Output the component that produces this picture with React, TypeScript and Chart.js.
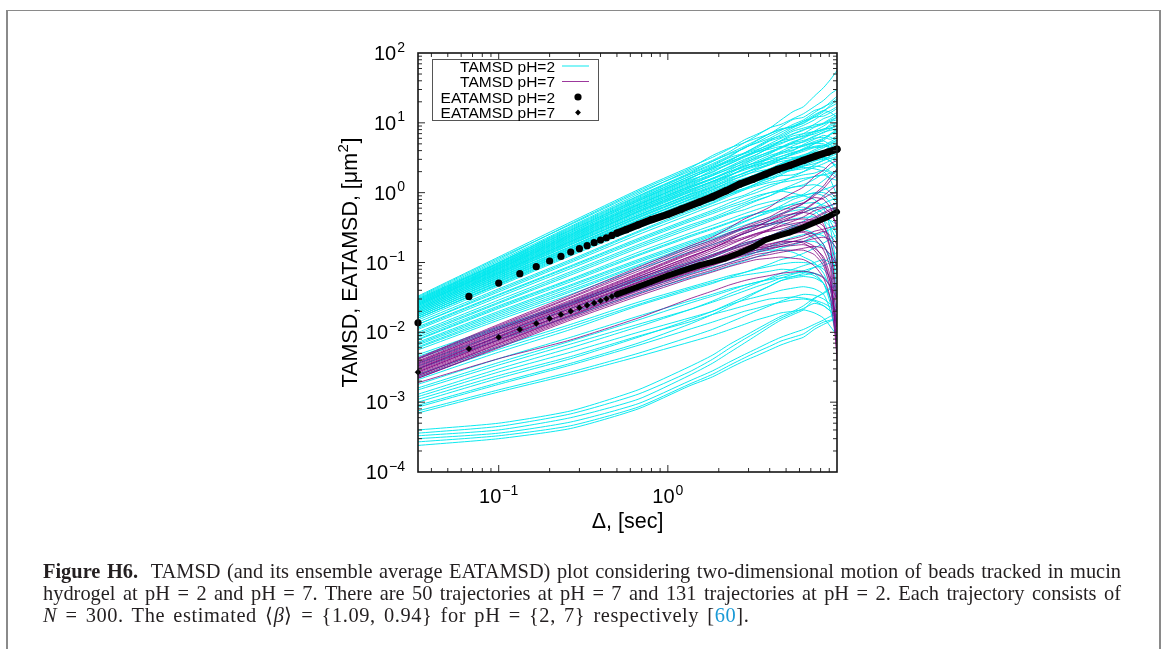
import { useEffect, useRef } from "react";
import { Chart, registerables } from "chart.js";

Chart.register(...registerables);

// Lag n (frames) corresponds to Δ = n / FRAME_RATE seconds.
const FRAME_RATE = 30;

// Lags at which each single-trajectory TAMSD curve is sampled.
const TAMSD_LAGS = [1, 3, 8, 20, 40, 55, 70, 85, 100, 120, 140, 165, 190, 220, 250, 275, 300];

// TAMSD curves, pH = 2 (μm²), one row per trajectory.
const TAMSD_PH2 = [
  [0.033, 0.12, 0.38, 1.1, 2.3, 3.2, 4.3, 5.7, 6.8, 8.4, 11, 14.5, 17, 24, 32, 42, 56],
  [0.031, 0.11, 0.36, 1.05, 2.2, 3.4, 4.4, 5.2, 6.5, 8.5, 9.5, 11.5, 13.5, 17, 21, 26, 30],
  [0.03, 0.105, 0.33, 0.95, 2.1, 2.9, 3.9, 5.2, 6.0, 7.0, 8.8, 11.2, 12, 15, 16.5, 20, 24],
  [0.029, 0.1, 0.32, 0.9, 1.9, 2.8, 3.6, 4.3, 5.5, 7.0, 8.2, 8.8, 10.5, 12, 14.5, 18, 21],
  [0.028, 0.098, 0.3, 0.85, 1.8, 2.5, 3.3, 4.4, 5.1, 6.0, 7.3, 8.8, 9.8, 12, 12.5, 14, 16],
  [0.027, 0.094, 0.29, 0.8, 1.7, 2.4, 3.2, 3.7, 4.6, 5.8, 6.5, 8.0, 9.2, 11, 13.5, 15, 17],
  [0.026, 0.09, 0.27, 0.75, 1.55, 2.3, 2.9, 3.7, 4.3, 5.5, 6.2, 7.6, 8.4, 9.3, 9.8, 11, 12],
  [0.026, 0.088, 0.26, 0.72, 1.5, 1.95, 2.7, 3.4, 3.9, 4.5, 5.6, 6.9, 7.8, 9.5, 11.5, 12.5, 14],
  [0.025, 0.085, 0.25, 0.68, 1.4, 2.1, 2.6, 3.2, 3.8, 4.6, 5.2, 5.8, 6.6, 7.5, 8.1, 9, 9.8],
  [0.024, 0.082, 0.24, 0.66, 1.35, 1.8, 2.4, 3.0, 3.5, 4.4, 5.0, 6.0, 7.0, 8.6, 9.6, 10.5, 11],
  [0.024, 0.08, 0.23, 0.62, 1.25, 1.75, 2.2, 2.6, 3.2, 3.9, 4.4, 5.2, 5.6, 6.3, 7.4, 7.8, 8.3],
  [0.023, 0.077, 0.22, 0.6, 1.2, 1.6, 2.1, 2.7, 3.1, 3.6, 4.5, 5.4, 6.0, 7.2, 8.2, 8.3, 7.5],
  [0.022, 0.074, 0.21, 0.57, 1.15, 1.6, 2.0, 2.3, 2.8, 3.4, 3.8, 4.1, 4.7, 5.4, 6.0, 6.9, 7.5],
  [0.022, 0.072, 0.205, 0.55, 1.1, 1.45, 1.9, 2.4, 2.7, 3.2, 3.9, 4.7, 5.4, 6.5, 7.2, 8.2, 9.0],
  [0.021, 0.07, 0.2, 0.53, 1.05, 1.45, 1.8, 2.2, 2.5, 2.8, 3.3, 3.8, 4.1, 4.5, 4.7, 5.2, 5.6],
  [0.021, 0.068, 0.19, 0.5, 1.0, 1.3, 1.75, 2.2, 2.5, 3.1, 3.6, 4.0, 4.9, 5.8, 6.6, 6.2, 5.5],
  [0.02, 0.066, 0.185, 0.48, 0.95, 1.35, 1.65, 1.9, 2.3, 2.8, 3.1, 3.5, 3.9, 4.4, 4.5, 4.9, 5.3],
  [0.02, 0.064, 0.18, 0.47, 0.92, 1.2, 1.55, 1.95, 2.2, 2.5, 3.0, 3.6, 4.1, 5.0, 5.9, 7.0, 8.0],
  [0.019, 0.062, 0.17, 0.45, 0.88, 1.2, 1.5, 1.75, 2.1, 2.5, 2.8, 3.0, 3.3, 3.6, 3.7, 3.9, 4.2],
  [0.019, 0.06, 0.165, 0.43, 0.84, 1.1, 1.45, 1.8, 2.0, 2.2, 2.6, 3.0, 3.3, 3.9, 4.4, 5.0, 5.6],
  [0.018, 0.058, 0.16, 0.41, 0.8, 1.1, 1.35, 1.55, 1.85, 2.2, 2.4, 2.5, 2.8, 3.0, 3.2, 3.1, 2.7],
  [0.018, 0.056, 0.155, 0.4, 0.78, 1.0, 1.3, 1.6, 1.8, 2.0, 2.5, 3.0, 3.4, 4.1, 4.7, 5.4, 6.0],
  [0.017, 0.054, 0.15, 0.38, 0.74, 1.0, 1.25, 1.45, 1.7, 2.0, 2.2, 2.3, 2.6, 2.9, 3.0, 3.3, 3.6],
  [0.017, 0.052, 0.145, 0.37, 0.7, 0.95, 1.15, 1.35, 1.55, 1.8, 2.0, 2.1, 2.4, 2.8, 3.1, 2.8, 2.2],
  [0.016, 0.05, 0.14, 0.35, 0.66, 0.85, 1.1, 1.35, 1.5, 1.6, 1.9, 2.1, 2.2, 2.4, 2.3, 2.0, 1.8],
  [0.016, 0.048, 0.13, 0.33, 0.62, 0.82, 1.0, 1.15, 1.35, 1.6, 1.75, 1.8, 2.0, 2.3, 2.6, 2.9, 3.2],
  [0.032, 0.115, 0.35, 1.0, 2.0, 2.8, 3.7, 4.6, 5.6, 7.0, 8.0, 9.0, 10.5, 13, 15, 14, 12],
  [0.03, 0.1, 0.31, 0.88, 1.85, 2.6, 3.4, 4.4, 5.2, 6.5, 7.8, 9.5, 11, 14, 17, 19, 22],
  [0.029, 0.096, 0.29, 0.82, 1.7, 2.3, 3.0, 3.6, 4.1, 4.8, 5.5, 6.0, 6.4, 6.9, 7.8, 8.5, 9.0],
  [0.028, 0.092, 0.28, 0.78, 1.6, 2.2, 2.9, 3.7, 4.5, 5.6, 6.8, 8.5, 10, 12.5, 15, 17, 19],
  [0.027, 0.09, 0.27, 0.76, 1.6, 2.2, 2.8, 3.3, 3.8, 4.2, 4.6, 4.4, 4.6, 5.2, 5.5, 4.8, 4.0],
  [0.026, 0.086, 0.255, 0.7, 1.45, 2.0, 2.6, 3.3, 4.0, 5.0, 6.0, 7.0, 8.0, 8.8, 10, 11.5, 13],
  [0.025, 0.083, 0.245, 0.67, 1.38, 1.85, 2.35, 2.8, 3.3, 3.8, 4.5, 5.0, 5.3, 6.0, 6.2, 5.8, 6.5],
  [0.025, 0.081, 0.235, 0.64, 1.3, 1.75, 2.25, 2.9, 3.5, 4.4, 5.5, 6.5, 7.0, 7.5, 8.0, 9.5, 10],
  [0.024, 0.078, 0.225, 0.61, 1.22, 1.6, 2.0, 2.4, 2.7, 3.0, 3.3, 3.7, 4.2, 4.6, 4.8, 4.2, 3.4],
  [0.023, 0.075, 0.215, 0.58, 1.16, 1.55, 2.0, 2.5, 3.0, 3.7, 4.3, 5.2, 6.2, 7.6, 9.0, 10.5, 12],
  [0.022, 0.072, 0.2, 0.54, 1.08, 1.45, 1.8, 2.1, 2.4, 2.7, 3.0, 3.2, 3.3, 3.5, 3.9, 4.3, 4.5],
  [0.021, 0.069, 0.195, 0.52, 1.02, 1.4, 1.75, 2.2, 2.6, 3.2, 3.7, 4.4, 4.8, 5.1, 5.0, 4.4, 3.9],
  [0.02, 0.065, 0.18, 0.47, 0.93, 1.25, 1.6, 1.9, 2.2, 2.6, 3.0, 3.6, 4.3, 5.0, 5.6, 6.8, 7.5],
  [0.019, 0.061, 0.17, 0.44, 0.86, 1.15, 1.4, 1.6, 1.8, 2.0, 2.2, 2.3, 2.4, 2.6, 2.9, 3.1, 3.3],
  [0.018, 0.057, 0.158, 0.4, 0.79, 1.05, 1.3, 1.55, 1.8, 2.2, 2.6, 3.1, 3.5, 3.8, 4.0, 4.5, 5.0],
  [0.017, 0.053, 0.148, 0.37, 0.72, 0.95, 1.2, 1.4, 1.6, 1.85, 2.0, 2.2, 2.3, 2.2, 2.0, 1.5, 0.9],
  [0.016, 0.049, 0.135, 0.34, 0.64, 0.86, 1.05, 1.25, 1.45, 1.7, 2.0, 2.4, 2.8, 3.2, 3.7, 4.2, 4.4],
  [0.015, 0.046, 0.125, 0.31, 0.58, 0.76, 0.95, 1.1, 1.25, 1.4, 1.5, 1.65, 1.8, 1.9, 2.1, 1.9, 1.6],
  [0.014, 0.042, 0.11, 0.28, 0.55, 0.72, 0.95, 1.15, 1.3, 1.5, 1.8, 2.2, 2.5, 3.0, 3.6, 4.2, 4.8],
  [0.013, 0.038, 0.1, 0.25, 0.48, 0.65, 0.8, 0.92, 1.1, 1.3, 1.4, 1.5, 1.6, 1.7, 1.8, 1.9, 2.1],
  [0.012, 0.035, 0.09, 0.22, 0.42, 0.56, 0.72, 0.88, 1.0, 1.2, 1.4, 1.7, 2.0, 2.5, 2.9, 3.4, 3.9],
  [0.011, 0.032, 0.082, 0.2, 0.38, 0.5, 0.62, 0.72, 0.85, 1.0, 1.1, 1.2, 1.25, 1.3, 1.2, 1.0, 0.8],
  [0.01, 0.029, 0.074, 0.18, 0.34, 0.44, 0.56, 0.68, 0.78, 0.9, 1.05, 1.2, 1.3, 1.55, 1.9, 2.3, 2.6],
  [0.009, 0.026, 0.066, 0.16, 0.3, 0.4, 0.5, 0.57, 0.66, 0.74, 0.8, 0.88, 0.92, 0.98, 0.9, 0.7, 0.45],
  [0.0085, 0.024, 0.058, 0.14, 0.26, 0.34, 0.42, 0.5, 0.57, 0.66, 0.75, 0.86, 0.95, 1.2, 1.5, 1.8, 2.0],
  [0.0078, 0.022, 0.053, 0.125, 0.23, 0.3, 0.37, 0.44, 0.5, 0.56, 0.62, 0.68, 0.7, 0.72, 0.66, 0.6, 0.55],
  [0.0072, 0.02, 0.048, 0.11, 0.2, 0.26, 0.33, 0.39, 0.45, 0.52, 0.6, 0.7, 0.78, 0.95, 1.1, 1.2, 1.3],
  [0.0066, 0.018, 0.043, 0.1, 0.18, 0.24, 0.29, 0.34, 0.39, 0.44, 0.5, 0.55, 0.58, 0.6, 0.5, 0.38, 0.25],
  [0.006, 0.016, 0.038, 0.088, 0.16, 0.21, 0.26, 0.3, 0.34, 0.39, 0.44, 0.49, 0.52, 0.6, 0.7, 0.78, 0.85],
  [0.0056, 0.015, 0.035, 0.08, 0.14, 0.18, 0.22, 0.26, 0.3, 0.34, 0.38, 0.42, 0.44, 0.45, 0.4, 0.32, 0.2],
  [0.013, 0.04, 0.105, 0.27, 0.52, 0.7, 0.9, 1.1, 1.35, 1.7, 2.1, 2.6, 3.0, 3.3, 3.2, 2.8, 2.4],
  [0.0115, 0.034, 0.087, 0.21, 0.4, 0.53, 0.66, 0.78, 0.9, 1.0, 1.05, 0.98, 0.9, 0.8, 0.6, 0.3, 0.08],
  [0.0095, 0.027, 0.07, 0.17, 0.32, 0.42, 0.52, 0.64, 0.76, 0.9, 1.1, 1.3, 1.5, 1.7, 1.8, 1.6, 1.5],
  [0.008, 0.023, 0.056, 0.13, 0.24, 0.31, 0.38, 0.45, 0.5, 0.55, 0.58, 0.6, 0.62, 0.55, 0.4, 0.2, 0.04],
  [0.0069, 0.019, 0.046, 0.105, 0.19, 0.25, 0.31, 0.38, 0.45, 0.55, 0.65, 0.8, 0.9, 1.0, 1.0, 0.9, 0.7],
  [0.0062, 0.017, 0.04, 0.092, 0.17, 0.22, 0.27, 0.31, 0.34, 0.36, 0.37, 0.34, 0.3, 0.26, 0.18, 0.1, 0.03],
  [0.0048, 0.012, 0.027, 0.06, 0.1, 0.13, 0.16, 0.19, 0.21, 0.24, 0.27, 0.31, 0.34, 0.38, 0.42, 0.4, 0.35],
  [0.0042, 0.011, 0.025, 0.055, 0.095, 0.12, 0.15, 0.18, 0.2, 0.24, 0.28, 0.33, 0.39, 0.5, 0.58, 0.65, 0.7],
  [0.0036, 0.0095, 0.022, 0.047, 0.08, 0.1, 0.12, 0.14, 0.15, 0.16, 0.18, 0.2, 0.2, 0.2, 0.17, 0.12, 0.07],
  [0.003, 0.0078, 0.017, 0.036, 0.06, 0.075, 0.09, 0.105, 0.12, 0.14, 0.16, 0.18, 0.2, 0.24, 0.27, 0.3, 0.33],
  [0.0025, 0.0062, 0.013, 0.027, 0.044, 0.055, 0.065, 0.072, 0.08, 0.088, 0.095, 0.1, 0.1, 0.095, 0.08, 0.06, 0.03],
  [0.0021, 0.0052, 0.011, 0.024, 0.04, 0.05, 0.062, 0.072, 0.082, 0.095, 0.11, 0.12, 0.135, 0.16, 0.19, 0.22, 0.25],
  [0.0018, 0.0042, 0.0085, 0.017, 0.028, 0.035, 0.042, 0.047, 0.052, 0.057, 0.06, 0.063, 0.066, 0.07, 0.062, 0.045, 0.02],
  [0.0015, 0.0034, 0.0068, 0.013, 0.021, 0.027, 0.033, 0.039, 0.045, 0.052, 0.06, 0.068, 0.076, 0.085, 0.09, 0.1, 0.11],
  [0.0012, 0.0027, 0.0052, 0.01, 0.016, 0.02, 0.025, 0.029, 0.032, 0.036, 0.04, 0.043, 0.045, 0.042, 0.035, 0.02, 0.008],
  [0.001, 0.0022, 0.0042, 0.0085, 0.015, 0.02, 0.026, 0.032, 0.038, 0.046, 0.055, 0.063, 0.07, 0.085, 0.1, 0.12, 0.14],
  [0.00085, 0.0018, 0.0034, 0.0065, 0.011, 0.014, 0.017, 0.02, 0.022, 0.025, 0.027, 0.029, 0.03, 0.028, 0.024, 0.02, 0.015],
  [0.0007, 0.0014, 0.0025, 0.0045, 0.0072, 0.009, 0.011, 0.013, 0.015, 0.017, 0.019, 0.02, 0.021, 0.019, 0.016, 0.012, 0.009],
  [0.0045, 0.0115, 0.026, 0.056, 0.09, 0.11, 0.125, 0.13, 0.14, 0.15, 0.15, 0.14, 0.12, 0.1, 0.07, 0.04, 0.012],
  [0.0033, 0.0085, 0.019, 0.04, 0.068, 0.085, 0.1, 0.12, 0.14, 0.17, 0.2, 0.23, 0.25, 0.26, 0.24, 0.2, 0.16],
  [0.0023, 0.0057, 0.012, 0.025, 0.042, 0.052, 0.06, 0.066, 0.07, 0.075, 0.08, 0.078, 0.075, 0.07, 0.05, 0.025, 0.007],
  [0.0016, 0.0037, 0.0075, 0.015, 0.026, 0.033, 0.04, 0.047, 0.052, 0.058, 0.065, 0.07, 0.072, 0.065, 0.05, 0.03, 0.015],
  [0.0013, 0.003, 0.006, 0.012, 0.021, 0.028, 0.036, 0.043, 0.05, 0.06, 0.07, 0.08, 0.09, 0.1, 0.11, 0.1, 0.09],
  [0.0011, 0.0024, 0.0045, 0.0088, 0.014, 0.018, 0.021, 0.024, 0.027, 0.03, 0.031, 0.032, 0.031, 0.029, 0.026, 0.023, 0.02],
  [0.0009, 0.0019, 0.0036, 0.007, 0.013, 0.018, 0.024, 0.03, 0.037, 0.046, 0.055, 0.06, 0.063, 0.06, 0.05, 0.03, 0.012],
  [0.00075, 0.0015, 0.0027, 0.005, 0.0085, 0.011, 0.014, 0.017, 0.02, 0.024, 0.028, 0.032, 0.035, 0.034, 0.03, 0.025, 0.02],
  [0.0004, 0.0005, 0.00075, 0.0015, 0.0032, 0.0047, 0.0068, 0.0088, 0.011, 0.014, 0.017, 0.02, 0.024, 0.031, 0.036, 0.042, 0.048],
  [0.00036, 0.00045, 0.00068, 0.0013, 0.0027, 0.0041, 0.006, 0.008, 0.01, 0.013, 0.016, 0.019, 0.022, 0.026, 0.024, 0.02, 0.017],
  [0.00033, 0.0004, 0.0006, 0.0011, 0.0024, 0.0036, 0.0052, 0.007, 0.009, 0.012, 0.015, 0.018, 0.021, 0.03, 0.037, 0.044, 0.05],
  [0.0003, 0.00036, 0.00052, 0.00095, 0.002, 0.0028, 0.0038, 0.0048, 0.0058, 0.0072, 0.0085, 0.0098, 0.011, 0.013, 0.015, 0.017, 0.018],
  [0.00027, 0.00033, 0.00046, 0.00085, 0.0018, 0.0025, 0.0034, 0.0043, 0.0052, 0.0063, 0.0075, 0.0085, 0.0095, 0.012, 0.014, 0.015, 0.016],
  [0.00024, 0.0003, 0.00042, 0.0008, 0.0017, 0.0023, 0.0031, 0.0039, 0.0046, 0.0056, 0.0066, 0.0076, 0.0085, 0.011, 0.013, 0.0145, 0.0158],
];

// TAMSD curves, pH = 7 (μm²), one row per trajectory.
const TAMSD_PH7 = [
  [0.0043, 0.013, 0.034, 0.085, 0.17, 0.23, 0.32, 0.42, 0.5, 0.62, 0.8, 1.0, 1.2, 1.7, 2.1, 2.6, 2.9],
  [0.0041, 0.012, 0.031, 0.075, 0.15, 0.2, 0.26, 0.33, 0.38, 0.45, 0.55, 0.65, 0.72, 0.85, 0.8, 0.6, 0.3],
  [0.0039, 0.0115, 0.029, 0.07, 0.14, 0.19, 0.25, 0.31, 0.36, 0.42, 0.5, 0.6, 0.7, 0.9, 1.15, 1.5, 1.8],
  [0.0037, 0.011, 0.027, 0.066, 0.13, 0.17, 0.22, 0.26, 0.3, 0.34, 0.38, 0.41, 0.42, 0.4, 0.33, 0.2, 0.08],
  [0.0035, 0.0102, 0.026, 0.062, 0.12, 0.16, 0.21, 0.26, 0.3, 0.36, 0.42, 0.5, 0.57, 0.72, 0.84, 0.95, 1.0],
  [0.0034, 0.0098, 0.025, 0.059, 0.11, 0.15, 0.19, 0.22, 0.26, 0.3, 0.33, 0.36, 0.38, 0.36, 0.28, 0.15, 0.03],
  [0.0033, 0.0095, 0.024, 0.058, 0.115, 0.16, 0.21, 0.27, 0.32, 0.4, 0.48, 0.58, 0.7, 0.95, 1.25, 1.7, 2.2],
  [0.0032, 0.0093, 0.024, 0.056, 0.105, 0.14, 0.18, 0.22, 0.25, 0.29, 0.34, 0.39, 0.45, 0.55, 0.61, 0.66, 0.7],
  [0.0031, 0.0089, 0.023, 0.053, 0.1, 0.13, 0.16, 0.19, 0.21, 0.24, 0.26, 0.27, 0.28, 0.25, 0.18, 0.1, 0.012],
  [0.003, 0.0086, 0.022, 0.051, 0.095, 0.125, 0.155, 0.18, 0.21, 0.24, 0.28, 0.32, 0.36, 0.42, 0.5, 0.55, 0.6],
  [0.0029, 0.0083, 0.021, 0.049, 0.09, 0.12, 0.15, 0.175, 0.2, 0.22, 0.25, 0.26, 0.27, 0.22, 0.15, 0.08, 0.004],
  [0.0028, 0.008, 0.02, 0.047, 0.085, 0.11, 0.14, 0.165, 0.19, 0.21, 0.24, 0.27, 0.3, 0.36, 0.42, 0.45, 0.48],
  [0.0027, 0.0077, 0.0195, 0.045, 0.082, 0.105, 0.13, 0.15, 0.17, 0.185, 0.2, 0.2, 0.2, 0.17, 0.11, 0.05, 0.01],
  [0.0026, 0.0074, 0.0188, 0.043, 0.078, 0.1, 0.125, 0.14, 0.16, 0.18, 0.2, 0.22, 0.24, 0.28, 0.3, 0.32, 0.34],
  [0.0025, 0.0071, 0.018, 0.041, 0.074, 0.095, 0.12, 0.135, 0.15, 0.16, 0.17, 0.175, 0.18, 0.16, 0.12, 0.06, 0.006],
  [0.0024, 0.0068, 0.0172, 0.039, 0.07, 0.09, 0.11, 0.125, 0.14, 0.155, 0.17, 0.185, 0.2, 0.22, 0.23, 0.21, 0.15],
  [0.0023, 0.0065, 0.0165, 0.037, 0.066, 0.083, 0.1, 0.115, 0.13, 0.14, 0.15, 0.15, 0.15, 0.13, 0.09, 0.04, 0.008],
  [0.0022, 0.0062, 0.0158, 0.035, 0.062, 0.078, 0.095, 0.108, 0.12, 0.13, 0.14, 0.15, 0.16, 0.17, 0.16, 0.13, 0.09],
  [0.0022, 0.006, 0.015, 0.033, 0.058, 0.073, 0.088, 0.1, 0.11, 0.115, 0.12, 0.115, 0.11, 0.09, 0.06, 0.03, 0.005],
  [0.0019, 0.0042, 0.0078, 0.016, 0.03, 0.039, 0.048, 0.055, 0.06, 0.065, 0.07, 0.073, 0.075, 0.07, 0.06, 0.045, 0.03],
  [0.0042, 0.0125, 0.032, 0.08, 0.16, 0.21, 0.27, 0.31, 0.34, 0.36, 0.4, 0.46, 0.55, 0.7, 0.9, 1.1, 1.3],
  [0.0038, 0.011, 0.028, 0.068, 0.135, 0.18, 0.23, 0.28, 0.33, 0.4, 0.46, 0.5, 0.52, 0.48, 0.35, 0.15, 0.02],
  [0.0036, 0.0105, 0.026, 0.063, 0.12, 0.16, 0.2, 0.23, 0.26, 0.28, 0.3, 0.34, 0.38, 0.44, 0.52, 0.58, 0.62],
  [0.003, 0.0087, 0.022, 0.052, 0.096, 0.125, 0.16, 0.2, 0.24, 0.3, 0.37, 0.45, 0.52, 0.6, 0.62, 0.5, 0.35],
  [0.0027, 0.0078, 0.0198, 0.046, 0.084, 0.11, 0.135, 0.15, 0.16, 0.17, 0.18, 0.2, 0.22, 0.25, 0.28, 0.24, 0.18],
  [0.0024, 0.0069, 0.0175, 0.04, 0.072, 0.092, 0.113, 0.13, 0.15, 0.17, 0.19, 0.2, 0.19, 0.15, 0.1, 0.05, 0.012],
];

// Ensemble-averaged TAMSD, sampled at these lags.
const EATAMSD_LAGS = [
  1, 2, 3, 4, 5, 6, 7, 8, 9, 10, 11, 12, 13, 14, 15,
  17, 20, 24, 30, 36, 46, 55, 66, 80, 95, 113, 134, 158, 190, 225, 265, 300,
];
const EATAMSD_PH2 = [
  0.0137, 0.0327, 0.0507, 0.0692, 0.0871, 0.105, 0.122, 0.141, 0.158, 0.174,
  0.192, 0.21, 0.226, 0.244, 0.264,
  0.295, 0.345, 0.41, 0.49, 0.58, 0.73, 0.87, 1.06, 1.33, 1.55, 1.83, 2.15,
  2.46, 2.9, 3.35, 3.8, 4.2,
];
const EATAMSD_PH7 = [
  0.00269, 0.00582, 0.0085, 0.011, 0.0134, 0.0158, 0.018, 0.0201, 0.0225,
  0.0245, 0.0262, 0.0283, 0.0303, 0.0327, 0.0349,
  0.039, 0.045, 0.053, 0.065, 0.075, 0.091, 0.102, 0.115, 0.138, 0.165, 0.21,
  0.24, 0.27, 0.32, 0.38, 0.45, 0.53,
];
// From this lag on the markers overlap into a solid band.
const DENSE_FROM_LAG = 15;

const X_MIN = 1 / 30;
const X_MAX = 10;
const Y_MIN = 1e-4;
const Y_MAX = 1e2;
const X_LABEL_EXPONENTS = [-1, 0];
const Y_LABEL_EXPONENTS = [-4, -3, -2, -1, 0, 1, 2];
const LEGEND_LABELS = ["TAMSD pH=2", "TAMSD pH=7", "EATAMSD pH=2", "EATAMSD pH=7"];
const X_TITLE = "Δ, [sec]";
const Y_TITLE_MAIN = "TAMSD, EATAMSD, [μm";
const Y_TITLE_SUP = "2";
const Y_TITLE_END = "]";

const CYAN = "rgba(0, 232, 238, 0.95)";
const PURPLE = "rgba(128, 0, 128, 0.78)";
const SANS = '"Liberation Sans", Arial, Helvetica, sans-serif';

const toPoints = (lags: number[], values: number[]) =>
  lags.map((lag, i) => ({ x: lag / FRAME_RATE, y: values[i] }));

function drawPower(
  ctx: CanvasRenderingContext2D,
  exp: number,
  x: number,
  baseline: number,
  align: "right" | "center"
) {
  const base = "10";
  const sup = exp < 0 ? "\u2212" + Math.abs(exp) : String(exp);
  ctx.font = `20px ${SANS}`;
  const wb = ctx.measureText(base).width;
  ctx.font = `14px ${SANS}`;
  const ws = ctx.measureText(sup).width;
  const total = wb + 1 + ws;
  const left = align === "right" ? x - total : x - total / 2;
  ctx.textAlign = "left";
  ctx.textBaseline = "alphabetic";
  ctx.font = `20px ${SANS}`;
  ctx.fillText(base, left, baseline);
  ctx.font = `14px ${SANS}`;
  ctx.fillText(sup, left + wb + 1, baseline - 8.5);
}

const gnuplotFrame = {
  id: "gnuplotFrame",
  afterDatasetsDraw(chart: any) {
    const { ctx, chartArea: a } = chart;
    const xs = chart.scales.x;
    const ys = chart.scales.y;
    ctx.save();

    // mirrored log ticks on all four sides
    ctx.strokeStyle = "#2a2a2a";
    ctx.lineWidth = 1;
    ctx.beginPath();
    for (let d = -2; d <= 1; d++) {
      for (let m = 1; m <= 9; m++) {
        const v = m * Math.pow(10, d);
        if (v <= X_MIN * 1.0001 || v >= X_MAX * 0.9999) continue;
        const px = xs.getPixelForValue(v);
        const len = m === 1 ? 7 : 4;
        ctx.moveTo(px, a.bottom);
        ctx.lineTo(px, a.bottom - len);
        ctx.moveTo(px, a.top);
        ctx.lineTo(px, a.top + len);
      }
    }
    for (let d = -4; d <= 1; d++) {
      for (let m = 1; m <= 9; m++) {
        const v = m * Math.pow(10, d);
        if (v <= Y_MIN * 1.0001 || v >= Y_MAX * 0.9999) continue;
        const py = ys.getPixelForValue(v);
        const len = m === 1 ? 7 : 4;
        ctx.moveTo(a.left, py);
        ctx.lineTo(a.left + len, py);
        ctx.moveTo(a.right, py);
        ctx.lineTo(a.right - len, py);
      }
    }
    ctx.stroke();

    // plot border
    ctx.strokeStyle = "#151515";
    ctx.lineWidth = 1.6;
    ctx.strokeRect(a.left, a.top, a.right - a.left, a.bottom - a.top);

    // tick labels
    ctx.fillStyle = "#000";
    Y_LABEL_EXPONENTS.forEach((e) => {
      const py = ys.getPixelForValue(Math.pow(10, e));
      drawPower(ctx, e, 405, py + 7, "right");
    });
    X_LABEL_EXPONENTS.forEach((e) => {
      const px = xs.getPixelForValue(Math.pow(10, e));
      drawPower(ctx, e, px, 503, "center");
    });

    // axis titles
    ctx.font = `21.5px ${SANS}`;
    ctx.textAlign = "center";
    ctx.textBaseline = "alphabetic";
    ctx.fillText(X_TITLE, (a.left + a.right) / 2, 528);

    ctx.save();
    ctx.translate(357, (a.top + a.bottom) / 2);
    ctx.rotate(-Math.PI / 2);
    ctx.textAlign = "left";
    ctx.font = `21.5px ${SANS}`;
    const w1 = ctx.measureText(Y_TITLE_MAIN).width;
    const w3 = ctx.measureText(Y_TITLE_END).width;
    ctx.font = `15px ${SANS}`;
    const w2 = ctx.measureText(Y_TITLE_SUP).width;
    const start = -(w1 + w2 + w3 + 1) / 2;
    ctx.font = `21.5px ${SANS}`;
    ctx.fillText(Y_TITLE_MAIN, start, 0);
    ctx.fillText(Y_TITLE_END, start + w1 + w2 + 1, 0);
    ctx.font = `15px ${SANS}`;
    ctx.fillText(Y_TITLE_SUP, start + w1 + 0.5, -9);
    ctx.restore();

    // key
    ctx.strokeStyle = "#555";
    ctx.lineWidth = 1;
    ctx.strokeRect(432.5, 59.5, 166, 61);
    const rows = [66, 81.5, 97, 112.5];
    ctx.font = `15.5px ${SANS}`;
    ctx.textAlign = "right";
    ctx.fillStyle = "#000";
    LEGEND_LABELS.forEach((label, i) => {
      ctx.fillText(label, 555, rows[i] + 5.5);
    });
    ctx.lineWidth = 1;
    ctx.strokeStyle = CYAN;
    ctx.beginPath();
    ctx.moveTo(562, rows[0]);
    ctx.lineTo(589, rows[0]);
    ctx.stroke();
    ctx.strokeStyle = PURPLE;
    ctx.beginPath();
    ctx.moveTo(562, rows[1]);
    ctx.lineTo(589, rows[1]);
    ctx.stroke();
    ctx.fillStyle = "#000";
    ctx.beginPath();
    ctx.arc(578, rows[2], 3.6, 0, Math.PI * 2);
    ctx.fill();
    ctx.beginPath();
    ctx.moveTo(578, rows[3] - 2.9);
    ctx.lineTo(580.9, rows[3]);
    ctx.lineTo(578, rows[3] + 2.9);
    ctx.lineTo(575.1, rows[3]);
    ctx.closePath();
    ctx.fill();

    ctx.restore();
  },
};

export default function App() {
  const canvasRef = useRef<HTMLCanvasElement | null>(null);

  useEffect(() => {
    const canvas = canvasRef.current;
    if (!canvas) return;

    const cyanSets = TAMSD_PH2.map((vals, i) => ({
      label: i === 0 ? LEGEND_LABELS[0] : "",
      data: toPoints(TAMSD_LAGS, vals),
      borderColor: CYAN,
      borderWidth: 1,
      pointRadius: 0,
      tension: 0.2,
      order: 3,
    }));
    const purpleSets = TAMSD_PH7.map((vals, i) => ({
      label: i === 0 ? LEGEND_LABELS[1] : "",
      data: toPoints(TAMSD_LAGS, vals),
      borderColor: PURPLE,
      borderWidth: 1,
      pointRadius: 0,
      tension: 0.2,
      order: 2,
    }));
    const denseSegment = (ctx: any) =>
      EATAMSD_LAGS[ctx.p0DataIndex] >= DENSE_FROM_LAG ? "#000" : "rgba(0,0,0,0)";

    const chart = new Chart(canvas, {
      type: "line",
      data: {
        datasets: [
          ...cyanSets,
          ...purpleSets,
          {
            label: LEGEND_LABELS[2],
            data: toPoints(EATAMSD_LAGS, EATAMSD_PH2),
            showLine: true,
            borderColor: "#000",
            borderWidth: 7.2,
            borderCapStyle: "round",
            borderJoinStyle: "round",
            segment: { borderColor: denseSegment },
            pointStyle: "circle",
            pointRadius: 3.6,
            pointBackgroundColor: "#000",
            pointBorderWidth: 0,
            tension: 0,
            clip: false,
            order: 1,
          },
          {
            label: LEGEND_LABELS[3],
            data: toPoints(EATAMSD_LAGS, EATAMSD_PH7),
            showLine: true,
            borderColor: "#000",
            borderWidth: 6,
            borderCapStyle: "round",
            borderJoinStyle: "round",
            segment: { borderColor: denseSegment },
            pointStyle: "rectRot",
            pointRadius: 3,
            pointBackgroundColor: "#000",
            pointBorderColor: "#000",
            pointBorderWidth: 0.5,
            tension: 0,
            clip: false,
            order: 0,
          },
        ] as any,
      },
      options: {
        animation: false,
        responsive: false,
        events: [],
        layout: { padding: { left: 418, top: 53, right: 328, bottom: 177 } },
        plugins: { legend: { display: false }, tooltip: { enabled: false } },
        scales: {
          x: { type: "logarithmic", min: X_MIN, max: X_MAX, display: false },
          y: { type: "logarithmic", min: Y_MIN, max: Y_MAX, display: false },
        },
      },
      plugins: [gnuplotFrame],
    });
    return () => chart.destroy();
  }, []);

  const serif = '"Liberation Serif", "Times New Roman", serif';
  const lineStyle: any = { textAlign: "justify", textAlignLast: "justify" };

  return (
    <>
      <style>{`html,body{margin:0;overflow:hidden;background:#fff}`}</style>
      <div
        style={{
          position: "absolute",
          left: 6,
          top: 10,
          width: 1151,
          height: 638,
          borderTop: "1px solid #8a8a8a",
          borderLeft: "2px solid #8a8a8a",
          borderRight: "2px solid #8a8a8a",
        }}
      />
      <canvas
        ref={canvasRef}
        width={1165}
        height={649}
        style={{ position: "absolute", left: 0, top: 0, width: 1165, height: 649 }}
      />
      <div
        style={{
          position: "absolute",
          left: 43,
          top: 560,
          width: 1078,
          fontFamily: serif,
          fontSize: 20.4,
          lineHeight: "22px",
          color: "#231f20",
        }}
      >
        <div style={lineStyle}>
          <b>Figure H6.</b>&nbsp; TAMSD (and its ensemble average EATAMSD) plot considering
          two-dimensional motion of beads tracked in mucin
        </div>
        <div style={lineStyle}>
          hydrogel at pH = 2 and pH = 7. There are 50 trajectories at pH = 7 and 131 trajectories
          at pH = 2. Each trajectory consists of
        </div>
        <div style={{ wordSpacing: 2.5, letterSpacing: 0.6 }}>
          <i>N</i> = 300. The estimated ⟨<i>β</i>⟩ = {"{"}1.09, 0.94{"}"} for pH = {"{"}2, 7{"}"}{" "}
          respectively [<span style={{ color: "#1a9ad6" }}>60</span>].
        </div>
      </div>
    </>
  );
}
